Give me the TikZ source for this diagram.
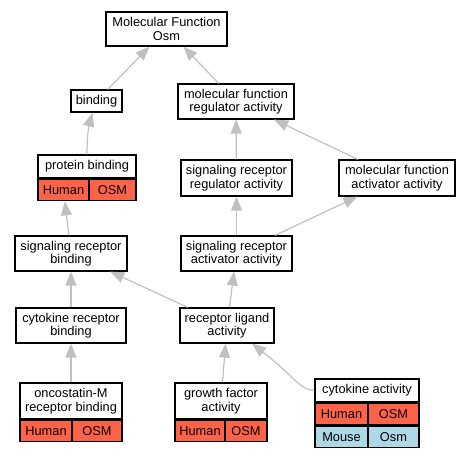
\documentclass[tikz,border=0pt]{standalone}
\usepackage{fontspec}
\setmainfont{Liberation Sans}
\usepackage{xcolor}
\usepackage{tikz}
\usetikzlibrary{arrows.meta}
\definecolor{human}{RGB}{255,99,71}
\definecolor{mouse}{RGB}{173,216,230}
\definecolor{edgegray}{RGB}{192,192,192}

\begin{document}
\begin{tikzpicture}[x=1pt,y=-1pt,
  font=\fontsize{12.8}{13.5}\selectfont,
  term/.style={draw,line width=1.2pt,fill=white,align=center,inner sep=0pt},
  cell/.style={draw,line width=1.2pt,inner sep=0pt,minimum height=21.5pt},
  isa/.style={draw=edgegray,line width=1.2pt,-{Triangle[length=14pt,width=11pt,fill=edgegray]}}]
  \useasboundingbox (0,0) rectangle (471,456);

  \node[term,minimum width=121,minimum height=34] (mf) at (166.5,29) {Molecular Function\\Osm};
  \node[term,minimum width=51,minimum height=22] (bind) at (96.5,101) {binding};
  \node[term,minimum width=116,minimum height=35] (mfra) at (236,101.5) {molecular function\\regulator activity};

  \node[term,minimum width=98,minimum height=23] (pb) at (87,166.5) {protein binding};
  \node[cell,fill=human,minimum width=51,anchor=north west] (pbh) at (pb.south west) {Human};
  \node[cell,fill=human,minimum width=47,anchor=north east] (pbg) at (pb.south east) {OSM};

  \node[term,minimum width=111,minimum height=36] (srra) at (236.5,178) {signaling receptor\\regulator activity};
  \node[term,minimum width=116,minimum height=36] (mfaa) at (397,178) {molecular function\\activator activity};
  \node[term,minimum width=112,minimum height=35] (srb) at (71,253.5) {signaling receptor\\binding};
  \node[term,minimum width=111,minimum height=35] (sraa) at (236.5,253.5) {signaling receptor\\activator activity};
  \node[term,minimum width=110,minimum height=35] (crb) at (71,325.5) {cytokine receptor\\binding};
  \node[term,minimum width=94,minimum height=35] (rla) at (227,325.5) {receptor ligand\\activity};

  \node[term,minimum width=102,minimum height=36] (omb) at (71,401) {oncostatin-M\\receptor binding};
  \node[cell,fill=human,minimum width=52,anchor=north west] (ombh) at (omb.south west) {Human};
  \node[cell,fill=human,minimum width=50,anchor=north east] (ombg) at (omb.south east) {OSM};

  \node[term,minimum width=92,minimum height=36] (gfa) at (221,401) {growth factor\\activity};
  \node[cell,fill=human,minimum width=50,anchor=north west] (gfah) at (gfa.south west) {Human};
  \node[cell,fill=human,minimum width=42,anchor=north east] (gfag) at (gfa.south east) {OSM};

  \node[term,minimum width=104,minimum height=23] (cyto) at (367,390.5) {cytokine activity};
  \node[cell,fill=human,minimum width=53,anchor=north west] (cytoh) at (cyto.south west) {Human};
  \node[cell,fill=human,minimum width=51,anchor=north east] (cytog) at (cyto.south east) {OSM};
  \node[cell,fill=mouse,minimum width=53,anchor=north west] (cytom) at (cytoh.south west) {Mouse};
  \node[cell,fill=mouse,minimum width=51,anchor=north east] (cytomg) at (cytog.south east) {Osm};

  \draw[isa] (bind) -- (mf);
  \draw[isa] (mfra) -- (mf);
  \draw[isa] (pb.north) .. controls (87,135) and (89,125) .. ([xshift=-4]bind.south);
  \draw[isa] (srra) -- (mfra);
  \draw[isa] (mfaa) -- (mfra);
  \draw[isa] (srb) -- (pbh);
  \draw[isa] (sraa) -- (srra);
  \draw[isa] (sraa) -- (mfaa);
  \draw[isa] (crb) -- (srb);
  \draw[isa] (rla) -- (srb);
  \draw[isa] (rla) -- (sraa);
  \draw[isa] (omb) -- (crb);
  \draw[isa] (gfa) -- (rla);
  \draw[isa] (cyto.west) .. controls (300,390) and (296,378) .. ([xshift=25]rla.south);
\end{tikzpicture}
\end{document}
